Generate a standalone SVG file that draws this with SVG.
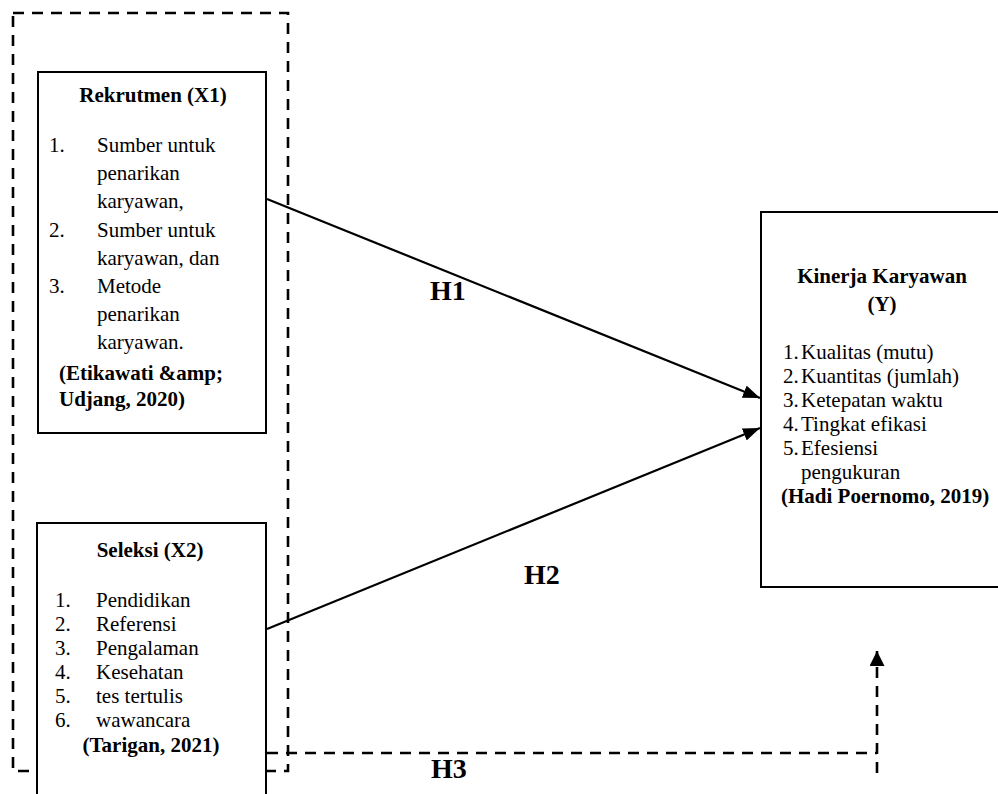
<svg xmlns="http://www.w3.org/2000/svg" width="998" height="794" viewBox="0 0 998 794">
<style>
  .box { fill: #ffffff; stroke: #000000; stroke-width: 2; }
  .dash { fill: none; stroke: #000000; stroke-width: 2.6; stroke-dasharray: 11 8; }
  .conn { fill: none; stroke: #000000; stroke-width: 2.2; }
  text { font-family: "Liberation Serif", "Times New Roman", serif; font-size: 21px; fill: #000000; }
  .b { font-weight: bold; }
  .mid { text-anchor: middle; }
  .h { font-size: 28px; font-weight: bold; }
</style>
<defs>
  <marker id="ah" markerWidth="17" markerHeight="13" refX="17" refY="6.5" orient="auto" markerUnits="userSpaceOnUse">
    <path d="M0,0 L17,6.5 L0,13 z" fill="#000000"/>
  </marker>
  <marker id="ah2" markerWidth="15" markerHeight="15" refX="15" refY="7.5" orient="auto" markerUnits="userSpaceOnUse">
    <path d="M0,0 L15,7.5 L0,15 z" fill="#000000"/>
  </marker>
</defs>
<rect width="998" height="794" fill="#ffffff"/>

<g id="group-x">
  <rect x="13" y="13" width="275" height="758" class="dash"/>
</g>

<g id="node-x1">
  <rect x="38" y="72" width="228" height="361" class="box"/>
  <text x="153" y="102" class="b mid">Rekrutmen (X1)</text>
  <text x="49" y="152">1.</text><text x="97" y="152">Sumber untuk</text>
  <text x="97" y="180">penarikan</text>
  <text x="97" y="208">karyawan,</text>
  <text x="49" y="237">2.</text><text x="97" y="237">Sumber untuk</text>
  <text x="97" y="265">karyawan, dan</text>
  <text x="49" y="293">3.</text><text x="97" y="293">Metode</text>
  <text x="97" y="321">penarikan</text>
  <text x="97" y="349">karyawan.</text>
  <text x="59" y="380" class="b">(Etikawati &amp;amp;</text>
  <text x="59" y="406" class="b">Udjang, 2020)</text>
</g>

<g id="node-x2">
  <rect x="37" y="523" width="229" height="290" class="box"/>
  <text x="150" y="557" class="b mid">Seleksi (X2)</text>
  <text x="55" y="607">1.</text><text x="96" y="607">Pendidikan</text>
  <text x="55" y="631">2.</text><text x="96" y="631">Referensi</text>
  <text x="55" y="655">3.</text><text x="96" y="655">Pengalaman</text>
  <text x="55" y="679">4.</text><text x="96" y="679">Kesehatan</text>
  <text x="55" y="703">5.</text><text x="96" y="703">tes tertulis</text>
  <text x="55" y="727">6.</text><text x="96" y="727">wawancara</text>
  <text x="151" y="752" class="b mid">(Tarigan, 2021)</text>
</g>

<g id="node-y">
  <rect x="761" y="212" width="250" height="375" class="box"/>
  <text x="882" y="283" class="b mid">Kinerja Karyawan</text>
  <text x="882" y="311" class="b mid">(Y)</text>
  <text x="783" y="359">1.</text><text x="801" y="359">Kualitas (mutu)</text>
  <text x="783" y="383">2.</text><text x="801" y="383">Kuantitas (jumlah)</text>
  <text x="783" y="407">3.</text><text x="801" y="407">Ketepatan waktu</text>
  <text x="783" y="431">4.</text><text x="801" y="431">Tingkat efikasi</text>
  <text x="783" y="455">5.</text><text x="801" y="455">Efesiensi</text>
  <text x="801" y="479">pengukuran</text>
  <text x="781" y="503" class="b">(Hadi Poernomo, 2019)</text>
</g>

<g id="connectors">
  <line x1="267" y1="199" x2="760" y2="398" class="conn" marker-end="url(#ah)"/>
  <line x1="267" y1="629" x2="760" y2="428" class="conn" marker-end="url(#ah)"/>
  <path d="M267,753 H877" class="dash"/>
  <path d="M877,773 V651" class="dash" stroke-dasharray="10 9" marker-end="url(#ah2)"/>
  <text x="430" y="300" class="h">H1</text>
  <text x="524" y="584" class="h">H2</text>
  <text x="431" y="778" class="h">H3</text>
</g>
</svg>
